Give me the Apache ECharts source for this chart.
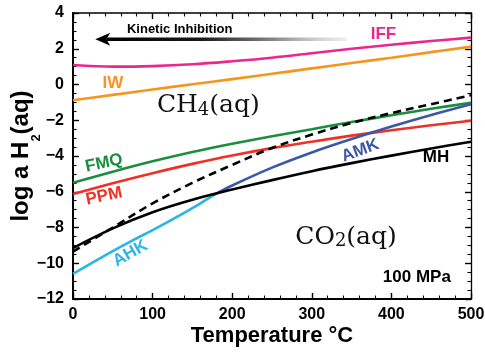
<!DOCTYPE html>
<html><head><meta charset="utf-8">
<script src="https://cdn.jsdelivr.net/npm/echarts@6/dist/echarts.min.js"></script>
<style>html,body{margin:0;padding:0;background:#fff}#c{width:485px;height:355px}</style>
</head><body><div id="c"></div>
<script>
// ---- data ----
const temps = [0, 50, 100, 150, 200, 250, 300, 350, 400, 450, 500];
const iff = [1.09, 1.0, 1.03, 1.13, 1.3, 1.5, 1.75, 2.0, 2.22, 2.43, 2.62];
const iw = [-0.88, -0.58, -0.28, 0.01, 0.3, 0.6, 0.9, 1.2, 1.5, 1.81, 2.12];
const fmq = [-5.5, -4.88, -4.3, -3.78, -3.32, -2.9, -2.5, -2.1, -1.72, -1.36, -1.02];
const ppm = [-6.13, -5.52, -4.96, -4.44, -3.97, -3.56, -3.2, -2.86, -2.56, -2.28, -2.03];
const mh = [-9.15, -8.05, -7.15, -6.45, -5.88, -5.35, -4.85, -4.4, -3.98, -3.58, -3.2];
const ch4co2 = [-9.35, -8.0, -6.65, -5.5, -4.5, -3.55, -2.8, -2.15, -1.6, -1.1, -0.6];
const ahkT = [0, 25, 50, 75, 100, 125, 150, 176];
const ahk = [-10.6, -9.95, -9.32, -8.72, -8.15, -7.55, -6.92, -6.2];
const amkT = [176, 200, 250, 300, 350, 400, 450, 500];
const amk = [-6.2, -5.65, -4.65, -3.8, -3.05, -2.35, -1.7, -1.1];
const xTicks = [0, 100, 200, 300, 400, 500];
const yTicks = [-12, -10, -8, -6, -4, -2, 0, 2, 4];

// annotation anchors in data units [T, log a]
const labels = [
  {text: 'IFF', at: [390, 2.8], color: '#ec268f', rot: 0},
  {text: 'IW', at: [50, 0.05], color: '#f7941d', rot: 0},
  {text: 'FMQ', at: [39, -4.4], color: '#1b8e3e', rot: 12},
  {text: 'PPM', at: [39, -6.25], color: '#ee3124', rot: 12},
  {text: 'AHK', at: [72, -9.45], color: '#29b5e8', rot: 30},
  {text: 'AMK', at: [361, -3.7], color: '#3c57a8', rot: 20},
  {text: 'MH', at: [456, -4.1], color: '#000', rot: 0}
];

const pair = (xs, ys) => xs.map((x, i) => [x, ys[i]]);
const F = 'Liberation Sans, Arial, Helvetica, sans-serif';
const chart = echarts.init(document.getElementById('c'), null, {renderer: 'canvas'});

function lineSeries(name, xs, ys, color, dashed) {
  return {
    name, type: 'line', smooth: 0.35, symbol: 'none', data: pair(xs, ys),
    lineStyle: {color, width: 2.6, type: dashed ? [8, 5] : 'solid'}, z: 3
  };
}
const minus = v => String(v).replace('-', '\u2212');
const axisCommon = {
  type: 'value', splitLine: {show: false},
  axisLine: {show: true, onZero: false, lineStyle: {color: '#000', width: 2}},
  axisTick: {inside: true, length: 6, lineStyle: {color: '#000', width: 1.4}},
  minorTick: {show: true, length: 3.5, lineStyle: {color: '#000', width: 1.1}}
};

chart.setOption({
  animation: false,
  grid: {left: 73, right: 14, top: 13, bottom: 56, containLabel: false, outerBoundsMode: 'none'},
  xAxis: [
    Object.assign({}, axisCommon, {
      min: xTicks[0], max: xTicks[xTicks.length - 1], interval: 100, position: 'bottom',
      minorTick: Object.assign({}, axisCommon.minorTick, {splitNumber: 5}),
      axisLabel: {color: '#000', fontFamily: F, fontWeight: 'bold', fontSize: 16, margin: 8},
      name: 'Temperature °C', nameLocation: 'middle', nameGap: 26, nameMoveOverlap: false,
      nameTextStyle: {color: '#000', fontFamily: F, fontWeight: 'bold', fontSize: 22}
    }),
    Object.assign({}, axisCommon, {
      min: xTicks[0], max: xTicks[xTicks.length - 1], interval: 100, position: 'top',
      axisLine: {show: true, onZero: false, lineStyle: {color: '#000', width: 1.7}},
      minorTick: Object.assign({}, axisCommon.minorTick, {splitNumber: 5}),
      axisLabel: {show: false}
    })
  ],
  yAxis: [
    Object.assign({}, axisCommon, {
      min: yTicks[0], max: yTicks[yTicks.length - 1], interval: 2, position: 'left',
      minorTick: Object.assign({}, axisCommon.minorTick, {splitNumber: 4}),
      axisLabel: {color: '#000', fontFamily: F, fontWeight: 'bold', fontSize: 16, margin: 9, formatter: minus},
      name: '{b|log a H}{s|2}{b|(aq)}', nameLocation: 'middle', nameGap: 10, nameMoveOverlap: false,
      nameTextStyle: {color: '#000', fontFamily: F, fontWeight: 'bold', fontSize: 24,
        rich: {
          b: {fontFamily: F, fontWeight: 'bold', fontSize: 24, lineHeight: 26, verticalAlign: 'top', color: '#000'},
          s: {fontFamily: F, fontWeight: 'bold', fontSize: 13, lineHeight: 54, verticalAlign: 'middle', color: '#000'}
        }}
    }),
    Object.assign({}, axisCommon, {
      min: yTicks[0], max: yTicks[yTicks.length - 1], interval: 2, position: 'right',
      axisLine: {show: true, onZero: false, lineStyle: {color: '#000', width: 1.3}},
      minorTick: Object.assign({}, axisCommon.minorTick, {splitNumber: 4}),
      axisLabel: {show: false}
    })
  ],
  series: [
    lineSeries('IFF', temps, iff, '#ec268f'),
    lineSeries('IW', temps, iw, '#f7941d'),
    lineSeries('FMQ', temps, fmq, '#1b8e3e'),
    lineSeries('PPM', temps, ppm, '#ee3124'),
    lineSeries('CH4-CO2', temps, ch4co2, '#000', true),
    lineSeries('AHK', ahkT, ahk, '#29b5e8'),
    lineSeries('AMK', amkT, amk, '#3c57a8'),
    lineSeries('MH', temps, mh, '#000')
  ]
});

const px = p => chart.convertToPixel({xAxisIndex: 0, yAxisIndex: 0}, p);
const g = [];
labels.forEach(l => {
  const p = px(l.at);
  g.push({type: 'text', x: p[0], y: p[1], rotation: l.rot * Math.PI / 180, z: 10,
    style: {text: l.text, fill: l.color, font: 'bold 17px ' + F, textAlign: 'center', textVerticalAlign: 'middle'}});
});
// Kinetic inhibition arrow
const a1 = px([28, 2.53]), a2 = px([344, 2.53]);
g.push({type: 'rect', z: 9, shape: {x: a1[0] + 11, y: a1[1] - 1.8, width: a2[0] - a1[0] - 11, height: 3.6},
  style: {fill: new echarts.graphic.LinearGradient(0, 0, 1, 0, [
    {offset: 0, color: '#000'}, {offset: 0.4, color: '#1a1a1a'}, {offset: 0.7, color: '#888'}, {offset: 1, color: 'rgba(220,220,220,0.5)'}])}});
g.push({type: 'polygon', z: 9, shape: {points: [[a1[0], a1[1]], [a1[0] + 15, a1[1] - 6.5], [a1[0] + 11, a1[1]], [a1[0] + 15, a1[1] + 6.5]]},
  style: {fill: '#000'}});
const k = px([134, 3.1]);
g.push({type: 'text', x: k[0], y: k[1], z: 10, style: {text: 'Kinetic Inhibition', fill: '#000', font: 'bold 13px ' + F, textAlign: 'center', textVerticalAlign: 'middle'}});
const mp = px([432, -10.8]);
g.push({type: 'text', x: mp[0], y: mp[1], z: 10, style: {text: '100 MPa', fill: '#000', font: 'bold 17px ' + F, textAlign: 'center', textVerticalAlign: 'middle'}});
const SF = 'DejaVu Serif, serif';
function chem(main, sub, tail, at) {
  const p = px(at);
  g.push({type: 'text', x: p[0], y: p[1], z: 10, style: {
    text: '{n|' + main + '}{s|' + sub + '}{n|' + tail + '}', textAlign: 'center', textVerticalAlign: 'middle',
    rich: {
      n: {fontFamily: SF, fontSize: 25, lineHeight: 29, verticalAlign: 'top', fill: '#111'},
      s: {fontFamily: SF, fontSize: 18, lineHeight: 34, verticalAlign: 'middle', fill: '#111'}
    }}});
}
chem('CH', '4', '(aq)', [170, -1.43]);
chem('CO', '2', '(aq)', [343, -8.8]);
chart.setOption({graphic: g});
</script></body></html>
